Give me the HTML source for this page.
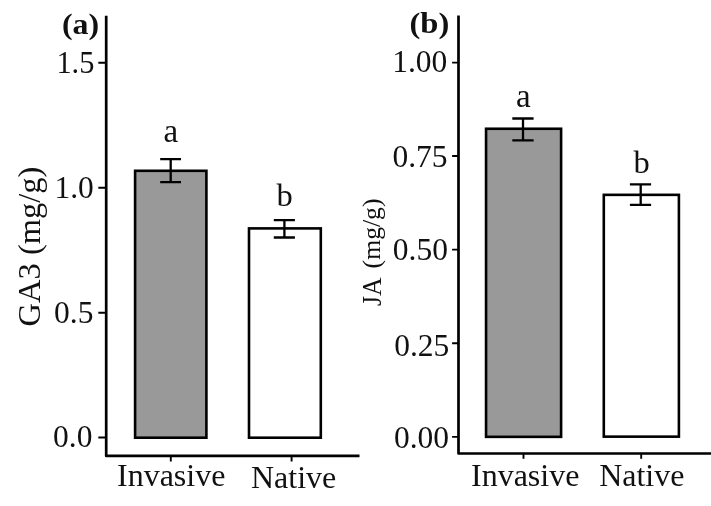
<!DOCTYPE html>
<html>
<head>
<meta charset="utf-8">
<title>Figure</title>
<style>
html,body{margin:0;padding:0;background:#fff;}
body{width:711px;height:506px;overflow:hidden;}
svg{display:block;}
text{font-family:"Liberation Serif","Times New Roman",Times,serif;fill:#111;}
.t{font-size:31.5px;}
.b{font-size:30px;font-weight:bold;}
.bar{stroke:#000;stroke-width:2.6;}
.eb{stroke:#000;stroke-width:2.3;fill:none;}
.ax{stroke:#000;stroke-width:2.7;fill:none;stroke-linejoin:round;}
.tk{stroke:#000;stroke-width:1.9;fill:none;}
</style>
</head>
<body>
<svg width="711" height="506" viewBox="0 0 711 506">
<rect x="0" y="0" width="711" height="506" fill="#ffffff"/>

<!-- ===== Panel (a) ===== -->
<g>
  <!-- bars -->
  <rect class="bar" x="135.1" y="170.8" width="71.3" height="266.9" fill="#999999"/>
  <rect class="bar" x="249" y="228.4" width="71.8" height="209.3" fill="#ffffff"/>
  <!-- error bars -->
  <path class="eb" d="M160.2 159.1H181M170.7 159.1V182.2M160.2 182.2H181"/>
  <path class="eb" d="M273.8 220.1H294.9M284.4 220.1V237.5M273.8 237.5H294.9"/>
  <!-- axes -->
  <path class="ax" d="M106.2 15.8V455.9H359.5"/>
  <!-- y ticks -->
  <path class="tk" d="M98.3 62.8H106.2M98.3 187.7H106.2M98.3 312.7H106.2M98.3 437.5H106.2"/>
  <!-- x ticks -->
  <path class="tk" d="M170.8 455.9V461.4M291.6 455.9V461.4"/>
  <!-- tick labels -->
  <text class="t" x="56.4" y="72.6" textLength="38" lengthAdjust="spacingAndGlyphs">1.5</text>
  <text class="t" x="93.8" y="197.8" text-anchor="end">1.0</text>
  <text class="t" x="93.4" y="322.6" text-anchor="end">0.5</text>
  <text class="t" x="92.4" y="447" text-anchor="end">0.0</text>
  <text class="t" x="171.2" y="486.2" text-anchor="middle" style="font-size:32px">Invasive</text>
  <text class="t" x="293.6" y="487.6" text-anchor="middle" style="font-size:32px">Native</text>
  <!-- letters -->
  <text class="t" x="170.8" y="141.7" text-anchor="middle" style="font-size:33px">a</text>
  <text class="t" x="284.6" y="206.4" text-anchor="middle" style="font-size:32.5px">b</text>
  <!-- panel tag -->
  <text class="b" x="61.9" y="33.6" textLength="37.2" lengthAdjust="spacingAndGlyphs">(a)</text>
  <!-- axis title -->
  <text class="t" transform="translate(39.5 246.5) rotate(-90)" text-anchor="middle" style="font-size:32.5px">GA3 (mg/g)</text>
</g>

<!-- ===== Panel (b) ===== -->
<g>
  <rect class="bar" x="486.05" y="128.75" width="75.05" height="308.1" fill="#999999"/>
  <rect class="bar" x="603.8" y="194.85" width="75.1" height="241.8" fill="#ffffff"/>
  <path class="eb" d="M512.3 118.5H533.6M523 118.5V140.4M512.3 140.4H533.6"/>
  <path class="eb" d="M629.9 184.3H651.1M640.7 184.3V204.8M629.9 204.8H651.1"/>
  <path class="ax" d="M458.5 15.6V453.5H711"/>
  <path class="tk" d="M452.1 62.6H458.5M452.1 156H458.5M452.1 249.6H458.5M452.1 343.3H458.5M452.1 436.85H458.5"/>
  <path class="tk" d="M523.5 453.5V458.8M641.2 453.5V458.8"/>
  <text class="t" x="447.3" y="72" text-anchor="end">1.00</text>
  <text class="t" x="447.5" y="166.9" text-anchor="end">0.75</text>
  <text class="t" x="447.9" y="260.1" text-anchor="end">0.50</text>
  <text class="t" x="449.3" y="356.4" text-anchor="end">0.25</text>
  <text class="t" x="449" y="447.6" text-anchor="end">0.00</text>
  <text class="t" x="525.2" y="485.9" text-anchor="middle" style="font-size:32px">Invasive</text>
  <text class="t" x="641.8" y="485.9" text-anchor="middle" style="font-size:32px">Native</text>
  <text class="t" x="523.3" y="106.7" text-anchor="middle" style="font-size:33px">a</text>
  <text class="t" x="641.7" y="173.4" text-anchor="middle" style="font-size:32.5px">b</text>
  <text class="b" x="409.5" y="33.2" textLength="39.8" lengthAdjust="spacingAndGlyphs">(b)</text>
  <text class="t" transform="translate(380.5 306) rotate(-90)" style="font-size:26.5px" textLength="28.8" lengthAdjust="spacingAndGlyphs">JA</text>
  <text class="t" transform="translate(380.3 268.4) rotate(-90)" style="font-size:25.7px">(mg/g)</text>
</g>
</svg>
</body>
</html>
